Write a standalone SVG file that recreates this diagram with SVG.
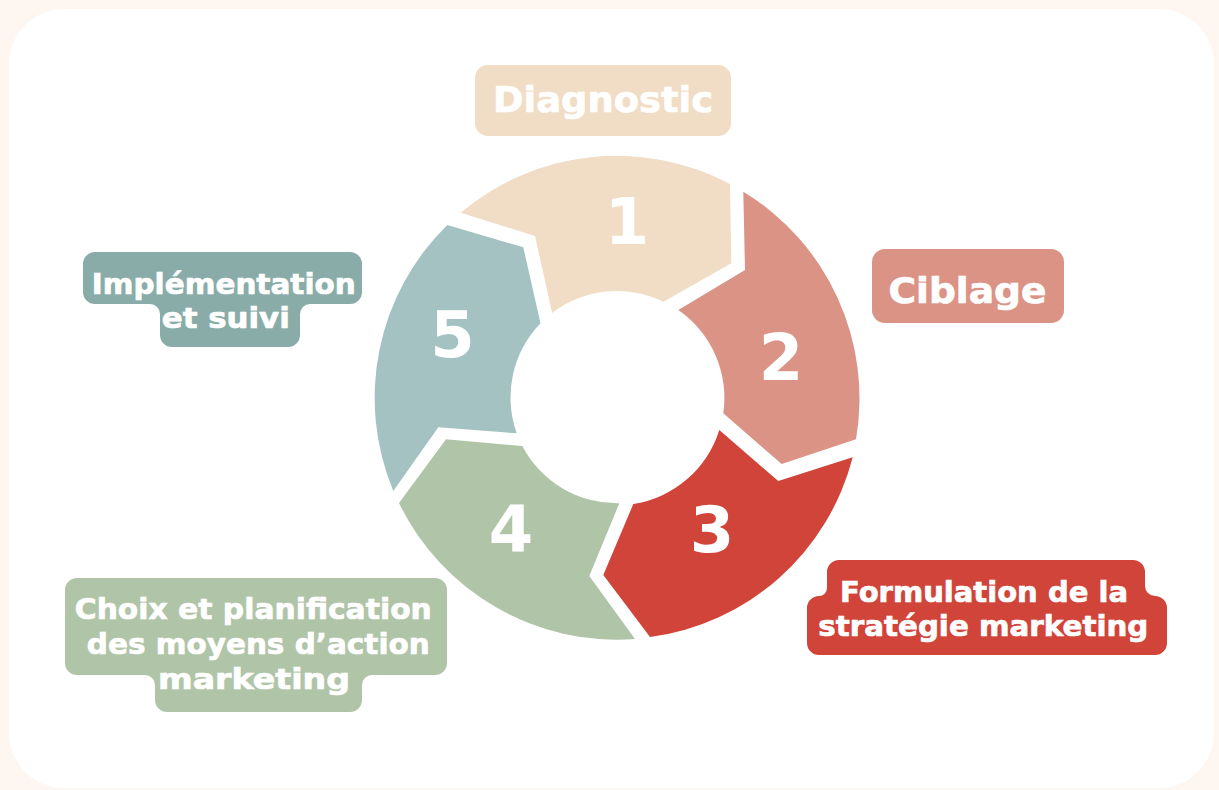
<svg xmlns="http://www.w3.org/2000/svg" width="1219" height="790" viewBox="0 0 1219 790">
  <style>
    .num { font-family: "DejaVu Sans", "Liberation Sans", sans-serif; font-weight: bold; font-size: 64px; fill: #ffffff; text-anchor: middle; }
    .lbl { font-family: "DejaVu Sans", "Liberation Sans", sans-serif; font-weight: bold; fill: #ffffff; stroke: #ffffff; stroke-width: 0.7px; text-anchor: middle; }
    .big { font-size: 36px; }
    .small { font-size: 29px; }
    .c1 { fill: #F1DDC5; }
    .c2 { fill: #DB9386; }
    .c3 { fill: #D1443A; }
    .c4 { fill: #B0C5A8; }
    .c5 { fill: #A3C2C1; }
    .c5d { fill: #8AACA8; }
  </style>
  <rect x="0" y="0" width="1219" height="790" fill="#FDF6F1"/>
  <rect x="9" y="9" width="1205" height="779" rx="55" ry="55" fill="#ffffff"/>

  <g id="step1">
    <path class="c1" d="M460.7,212.7 L535,236 L552.1,312.9 A107,107 0 0 1 663.5,301.7 L731.3,263.3 L730,184 A242,242 0 0 0 460.7,212.7 Z"/>
    <text class="num" x="627" y="244">1</text>
  </g>
  <g id="step2">
    <path class="c2" d="M743.3,191.7 L745,270 L678.3,310 A107,107 0 0 1 723.3,413.3 L781.7,464 L856,439.3 A242,242 0 0 0 743.3,191.7 Z"/>
    <text class="num" x="781" y="380">2</text>
  </g>
  <g id="step3">
    <path class="c3" d="M852.7,457.3 L778.3,481 L719.3,430 A107,107 0 0 1 633.3,504 L603.3,575 L650,637 A242,242 0 0 0 852.7,457.3 Z"/>
    <text class="num" x="712" y="552">3</text>
  </g>
  <g id="step4">
    <path class="c4" d="M635,639 L589.3,576 L619.3,503.3 A107,107 0 0 1 522.3,446 L446,439.3 L399,503 A242,242 0 0 0 635,639 Z"/>
    <text class="num" x="511" y="552">4</text>
  </g>
  <g id="step5">
    <path class="c5" d="M393.3,491 L438.3,427.3 L516.7,433.3 A107,107 0 0 1 540.5,323.2 L523.3,247.3 L447.3,225 A242,242 0 0 0 393.3,491 Z"/>
    <text class="num" x="452.5" y="357">5</text>
  </g>

  <g id="label-diagnostic">
    <rect class="c1" x="475" y="65" width="256" height="71" rx="13"/>
    <text class="lbl big" x="603" y="112" textLength="220" lengthAdjust="spacingAndGlyphs">Diagnostic</text>
  </g>
  <g id="label-ciblage">
    <rect class="c2" x="872" y="249" width="192" height="74" rx="13"/>
    <text class="lbl big" x="967.5" y="303" textLength="158" lengthAdjust="spacingAndGlyphs">Ciblage</text>
  </g>
  <g id="label-strategie">
    <path class="c3" d="M839,560 H1133 A12,12 0 0 1 1145,572 V586 A10,10 0 0 0 1155,596 A12,12 0 0 1 1167,608 V643 A12,12 0 0 1 1155,655 H819 A12,12 0 0 1 807,643 V608 A12,12 0 0 1 819,596 A8,8 0 0 0 827,588 V572 A12,12 0 0 1 839,560 Z"/>
    <text class="lbl small" x="984" y="601.5" textLength="288" lengthAdjust="spacingAndGlyphs">Formulation de la</text>
    <text class="lbl small" x="983.3" y="635.5" textLength="330" lengthAdjust="spacingAndGlyphs">stratégie marketing</text>
  </g>
  <g id="label-moyens">
    <path class="c4" d="M77,578 H435 A12,12 0 0 1 447,590 V663 A12,12 0 0 1 435,675 H372 A10,10 0 0 0 362,685 V700 A12,12 0 0 1 350,712 H167 A12,12 0 0 1 155,700 V685 A10,10 0 0 0 145,675 H77 A12,12 0 0 1 65,663 V590 A12,12 0 0 1 77,578 Z"/>
    <text class="lbl small" x="253.3" y="618.5" textLength="357" lengthAdjust="spacingAndGlyphs">Choix et planification</text>
    <text class="lbl small" x="258.3" y="653.5" textLength="343" lengthAdjust="spacingAndGlyphs">des moyens d’action</text>
    <text class="lbl small" x="254" y="688.5" textLength="192" lengthAdjust="spacingAndGlyphs">marketing</text>
  </g>
  <g id="label-implementation">
    <path class="c5d" d="M95,252 H350 A12,12 0 0 1 362,264 V292 A12,12 0 0 1 350,304 H310 A10,10 0 0 0 300,314 V335 A12,12 0 0 1 288,347 H172 A12,12 0 0 1 160,335 V314 A10,10 0 0 0 150,304 H95 A12,12 0 0 1 83,292 V264 A12,12 0 0 1 95,252 Z"/>
    <text class="lbl small" x="223.8" y="293.5" textLength="264" lengthAdjust="spacingAndGlyphs">Implémentation</text>
    <text class="lbl small" x="225.8" y="327.5" textLength="128" lengthAdjust="spacingAndGlyphs">et suivi</text>
  </g>
  <g id="connectors"/>
</svg>
